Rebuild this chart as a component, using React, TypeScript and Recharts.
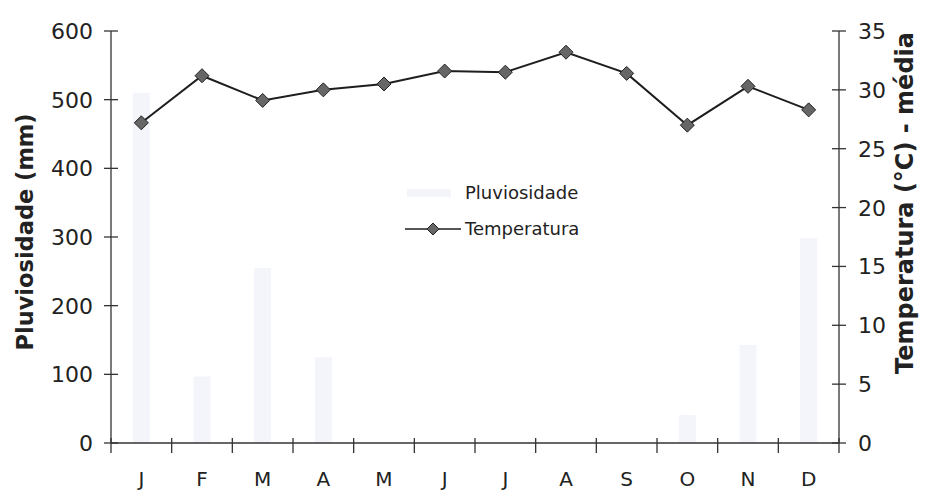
import { ComposedChart, Bar, Line, XAxis, YAxis } from "recharts";

const MONTHS = ["J", "F", "M", "A", "M", "J", "J", "A", "S", "O", "N", "D"];
const RAINFALL = [510, 97, 255, 125, 0, 0, 0, 0, 0, 41, 143, 298];
const TEMPERATURE = [27.2, 31.2, 29.1, 30.0, 30.5, 31.6, 31.5, 33.2, 31.4, 27.0, 30.3, 28.3];
const RAIN_TICKS = [0, 100, 200, 300, 400, 500, 600];
const TEMP_TICKS = [0, 5, 10, 15, 20, 25, 30, 35];

const data = MONTHS.map((m, i) => ({
  month: m,
  rain: RAINFALL[i],
  temp: TEMPERATURE[i],
}));

const FONT = "'DejaVu Sans', Verdana, sans-serif";
const AXIS = "#333";
const BAR_FILL = "#f3f5fa";
const LINE = "#1e1e1e";
const MARKER = "#666";

const PLOT_LEFT = 111;
const PLOT_RIGHT = 839;
const BAND = (PLOT_RIGHT - PLOT_LEFT) / MONTHS.length;

function Diamond(props: any) {
  const { cx, cy } = props;
  if (cx == null || cy == null) return null;
  const r = 7;
  return (
    <path
      d={`M${cx},${cy - r} L${cx + r},${cy} L${cx},${cy + r} L${cx - r},${cy} Z`}
      fill={MARKER}
      stroke="#222"
      strokeWidth={1}
    />
  );
}

function MonthTick(props: any) {
  const { x, y, payload, index } = props;
  const left = x - BAND / 2;
  return (
    <g>
      <line x1={left} x2={left} y1={y - 7} y2={y + 8} stroke={AXIS} strokeWidth={1.3} />
      {index === MONTHS.length - 1 && (
        <line x1={left + BAND} x2={left + BAND} y1={y - 7} y2={y + 8} stroke={AXIS} strokeWidth={1.3} />
      )}
      <text x={x} y={y + 41} textAnchor="middle" fontFamily={FONT} fontSize={20} fill="#222">
        {payload.value}
      </text>
    </g>
  );
}

function LeftTick(props: any) {
  const { y, payload } = props;
  return (
    <g>
      <line x1={PLOT_LEFT - 7} x2={PLOT_LEFT + 7} y1={y} y2={y} stroke={AXIS} strokeWidth={1.3} />
      <text x={93} y={y + 8} textAnchor="end" fontFamily={FONT} fontSize={22} fill="#222">
        {payload.value}
      </text>
    </g>
  );
}

function RightTick(props: any) {
  const { y, payload } = props;
  return (
    <g>
      <line x1={PLOT_RIGHT - 7} x2={PLOT_RIGHT + 7} y1={y} y2={y} stroke={AXIS} strokeWidth={1.3} />
      <text x={858} y={y + 8} textAnchor="start" fontFamily={FONT} fontSize={22} fill="#222">
        {payload.value}
      </text>
    </g>
  );
}

function AxisTitle({ cx, cy, size, text }: { cx: number; cy: number; size: number; text: string }) {
  return (
    <text
      x={cx}
      y={cy}
      transform={`rotate(-90, ${cx}, ${cy})`}
      textAnchor="middle"
      dominantBaseline="central"
      fontFamily={FONT}
      fontSize={size}
      fontWeight="bold"
      fill="#222"
    >
      {text}
    </text>
  );
}

function LegendBox() {
  return (
    <div
      style={{
        position: "absolute",
        left: 403,
        top: 175,
        fontFamily: FONT,
        fontSize: 18,
        color: "#222",
        lineHeight: "36px",
      }}
    >
      <div style={{ display: "flex", alignItems: "center" }}>
        <svg width={62} height={20}>
          <rect x={4} y={6} width={44} height={8} fill={BAR_FILL} />
        </svg>
        <span>Pluviosidade</span>
      </div>
      <div style={{ display: "flex", alignItems: "center" }}>
        <svg width={62} height={20}>
          <line x1={2} x2={58} y1={10} y2={10} stroke={LINE} strokeWidth={1.5} />
          <path d="M30,4 L36,10 L30,16 L24,10 Z" fill={MARKER} stroke="#222" strokeWidth={1} />
        </svg>
        <span>Temperatura</span>
      </div>
    </div>
  );
}

export default function App() {
  return (
    <div style={{ position: "absolute", left: 0, top: 0, width: 925, height: 492, background: "#fff" }}>
      <ComposedChart
        width={925}
        height={492}
        data={data}
        margin={{ top: 31, right: 0, left: 0, bottom: 4 }}
        barCategoryGap="64%"
      >
        <XAxis
          dataKey="month"
          height={45}
          axisLine={{ stroke: AXIS, strokeWidth: 1.3 }}
          tickLine={false}
          tickSize={0}
          tick={<MonthTick />}
          interval={0}
        />
        <YAxis
          yAxisId="rain"
          orientation="left"
          width={111}
          domain={[0, 600]}
          ticks={RAIN_TICKS}
          axisLine={{ stroke: AXIS, strokeWidth: 1.3 }}
          tickLine={false}
          tickSize={0}
          tick={<LeftTick />}
          label={() => <AxisTitle cx={25} cy={232} size={22.5} text="Pluviosidade (mm)" />}
        />
        <YAxis
          yAxisId="temp"
          orientation="right"
          width={86}
          domain={[0, 35]}
          ticks={TEMP_TICKS}
          axisLine={{ stroke: AXIS, strokeWidth: 1.3 }}
          tickLine={false}
          tickSize={0}
          tick={<RightTick />}
          label={() => <AxisTitle cx={905} cy={203} size={24} text="Temperatura (°C) - média" />}
        />
        <Bar yAxisId="rain" dataKey="rain" name="Pluviosidade" fill={BAR_FILL} isAnimationActive={false} />
        <Line
          yAxisId="temp"
          dataKey="temp"
          name="Temperatura"
          type="linear"
          stroke={LINE}
          strokeWidth={2}
          dot={<Diamond />}
          activeDot={false}
          isAnimationActive={false}
        />
      </ComposedChart>
      <LegendBox />
    </div>
  );
}
